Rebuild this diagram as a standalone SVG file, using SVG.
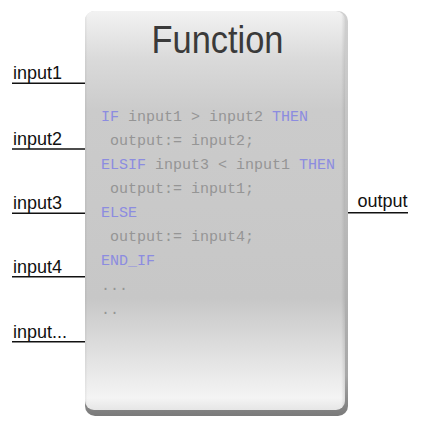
<svg xmlns="http://www.w3.org/2000/svg" width="422" height="430" viewBox="0 0 422 430">
<defs>
<linearGradient id="bodyG" x1="0" y1="0" x2="0" y2="1">
<stop offset="0" stop-color="#f2f2f2"/>
<stop offset="0.12" stop-color="#dadada"/>
<stop offset="0.25" stop-color="#cbcbcb"/>
<stop offset="0.72" stop-color="#c7c7c7"/>
<stop offset="0.88" stop-color="#e4e4e4"/>
<stop offset="0.97" stop-color="#f4f4f4"/>
<stop offset="1" stop-color="#e6e6e6"/>
</linearGradient>
<linearGradient id="rimG" x1="0" y1="0" x2="0" y2="1">
<stop offset="0" stop-color="#d0d0d0"/>
<stop offset="0.9" stop-color="#a8a8a8"/>
<stop offset="1" stop-color="#7a7a7a"/>
</linearGradient>
<linearGradient id="edgeG" x1="0" y1="0" x2="1" y2="0">
<stop offset="0" stop-color="#000" stop-opacity="0.06"/>
<stop offset="0.01" stop-color="#000" stop-opacity="0"/>
<stop offset="0.985" stop-color="#000" stop-opacity="0"/>
<stop offset="1" stop-color="#000" stop-opacity="0.1"/>
</linearGradient>
</defs>
<style>
.lbl{font-family:"Liberation Sans",Arial,sans-serif;font-size:18px;fill:#111}
.wire{stroke:#111;stroke-width:1.6;fill:none}
.code{font-family:"Liberation Mono","Courier New",monospace;font-size:15px;fill:#959595;white-space:pre}
.kw{fill:#8c8ce0}
.title{font-family:"Liberation Sans",Arial,sans-serif;font-size:39px;fill:#3a3a3a}
</style>
<g id="function-block">
<rect x="85" y="11" width="263" height="405" rx="10" fill="url(#rimG)"/>
<rect x="85" y="11" width="260" height="399" rx="9" fill="url(#bodyG)"/>
<rect x="85" y="11" width="260" height="399" rx="9" fill="url(#edgeG)"/>
<text class="title" x="217.5" y="53" text-anchor="middle" textLength="132" lengthAdjust="spacingAndGlyphs">Function</text>
<text class="code" x="101" y="121"><tspan class="kw">IF</tspan> input1 &gt; input2 <tspan class="kw">THEN</tspan></text>
<text class="code" x="110" y="145">output:= input2;</text>
<text class="code" x="101" y="169"><tspan class="kw">ELSIF</tspan> input3 &lt; input1 <tspan class="kw">THEN</tspan></text>
<text class="code" x="110" y="193">output:= input1;</text>
<text class="code kw" x="101" y="217">ELSE</text>
<text class="code" x="110" y="241">output:= input4;</text>
<text class="code kw" x="101" y="265">END_IF</text>
<text class="code" x="101" y="290">...</text>
<text class="code" x="101" y="314">..</text>
</g>
<g id="connectors">
<line class="wire" x1="12" y1="83.3" x2="85" y2="83.3"/>
<line class="wire" x1="12" y1="149" x2="85" y2="149"/>
<line class="wire" x1="12" y1="213.3" x2="85" y2="213.3"/>
<line class="wire" x1="12" y1="276.7" x2="85" y2="276.7"/>
<line class="wire" x1="12" y1="341.7" x2="85" y2="341.7"/>
<line class="wire" x1="348" y1="212.7" x2="408" y2="212.7"/>
</g>
<g id="input1"><text class="lbl" x="13" y="79">input1</text></g>
<g id="input2"><text class="lbl" x="13" y="145">input2</text></g>
<g id="input3"><text class="lbl" x="13" y="209">input3</text></g>
<g id="input4"><text class="lbl" x="13" y="273">input4</text></g>
<g id="input-more"><text class="lbl" x="13" y="338">input...</text></g>
<g id="output"><text class="lbl" x="357.5" y="207">output</text></g>
</svg>
